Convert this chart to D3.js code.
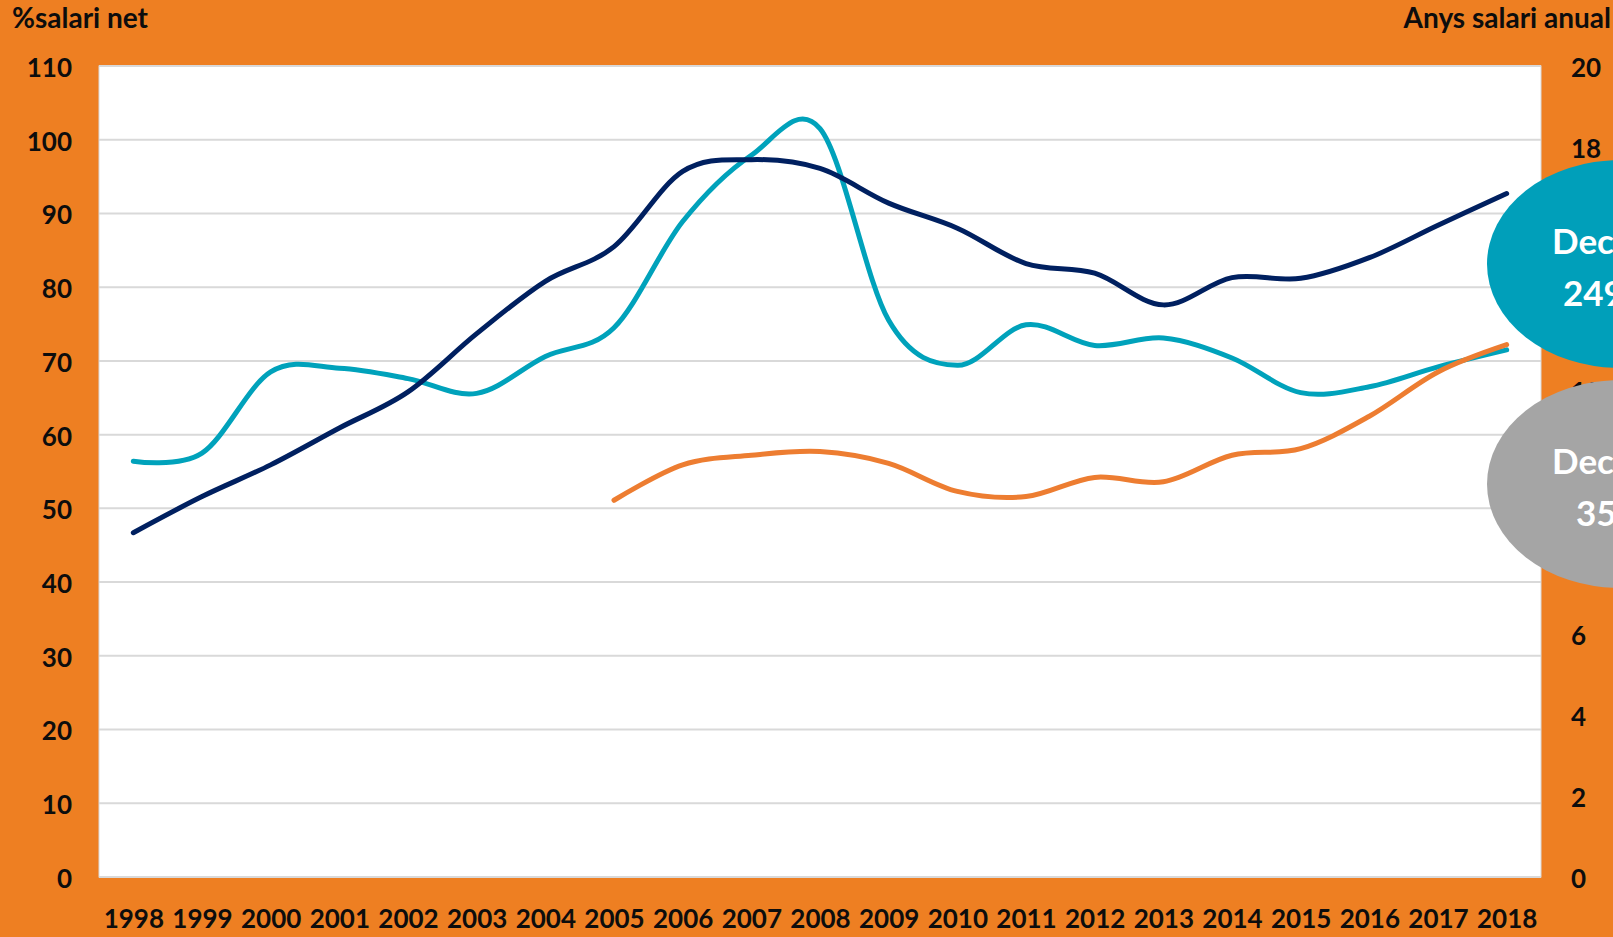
<!DOCTYPE html>
<html>
<head>
<meta charset="utf-8">
<script src="https://cdn.jsdelivr.net/npm/d3@7"></script>
<style>
  body { margin: 0; overflow: hidden; background: #ee7f22; }
  text { font-family: Lato, 'Open Sans', sans-serif; font-weight: bold; }
</style>
</head>
<body>
<div id="chart"></div>
<script>
const years = ['1998', '1999', '2000', '2001', '2002', '2003', '2004', '2005', '2006', '2007', '2008',
  '2009', '2010', '2011', '2012', '2013', '2014', '2015', '2016', '2017', '2018'];

// % of net salary
const darkValues = [46.7, 51.6, 55.9, 60.9, 65.8, 73.7, 80.8, 85.5, 95.7, 97.3, 96.1,
  91.4, 88.0, 83.2, 81.9, 77.6, 81.3, 81.2, 84.0, 88.4, 92.7];
const tealValues = [56.4, 57.5, 68.5, 69.0, 67.6, 65.6, 70.6, 74.5, 88.9, 97.9, 101.5,
  75.5, 69.4, 74.9, 72.1, 73.1, 70.4, 65.7, 66.5, 69.2, 71.5];
const orangeValues = [null, null, null, null, null, null, null, 51.1, 55.9, 57.2, 57.7,
  56.1, 52.3, 51.6, 54.2, 53.6, 57.2, 58.1, 62.5, 68.5, 72.2];

const leftTicks = d3.range(0, 111, 10);
// right axis labels left visible (8, 10, 14 and 16 sit under the bubbles)
const rightTicks = [0, 2, 4, 6, 12, 18, 20];

const bubbleColors = ['#009fba', '#a5a5a5'];
const bubbleLines = [['Dec', '249'], ['Dec', '35']];

const width = 1613;
const height = 937;
const plot = { left: 99, right: 1541, top: 66, bottom: 877 };

const svg = d3.select('#chart')
    .append('svg')
    .attr('width', width)
    .attr('height', height)
    .style('display', 'block');

svg.append('rect')
    .attr('width', width)
    .attr('height', height)
    .attr('fill', '#ee7f22');

svg.append('rect')
    .attr('x', plot.left)
    .attr('y', plot.top)
    .attr('width', plot.right - plot.left)
    .attr('height', plot.bottom - plot.top)
    .attr('fill', '#fff')
    .attr('stroke', '#d9d9d9')
    .attr('stroke-width', 1);

const x = d3.scalePoint(years, [plot.left, plot.right]).padding(0.5);
const yLeft = d3.scaleLinear([0, 110], [plot.bottom, plot.top]);
const yRight = d3.scaleLinear([0, 20], [plot.bottom, plot.top]);

// gridlines
svg.append('g')
    .selectAll('line')
    .data(leftTicks)
    .join('line')
    .attr('x1', plot.left)
    .attr('x2', plot.right)
    .attr('y1', d => yLeft(d))
    .attr('y2', d => yLeft(d))
    .attr('stroke', '#d9d9d9')
    .attr('stroke-width', 2);

// lines
const series = [
  { values: tealValues, color: '#00a2bb' },
  { values: darkValues, color: '#002060' },
  { values: orangeValues, color: '#ed7d31' }
];
const line = d3.line()
    .defined(d => d != null)
    .x((d, i) => x(years[i]))
    .y(d => yLeft(d))
    .curve(d3.curveCardinal.tension(0));

svg.append('g')
    .selectAll('path')
    .data(series)
    .join('path')
    .attr('d', s => line(s.values))
    .attr('fill', 'none')
    .attr('stroke', s => s.color)
    .attr('stroke-width', 5)
    .attr('stroke-linecap', 'round')
    .attr('stroke-linejoin', 'round');

// axes
const leftAxis = svg.append('g')
    .attr('transform', `translate(${plot.left}, 0)`)
    .call(d3.axisLeft(yLeft).tickValues(leftTicks).tickSize(0).tickPadding(27));
const rightAxis = svg.append('g')
    .attr('transform', `translate(${plot.right}, 0)`)
    .call(d3.axisRight(yRight).tickValues(rightTicks).tickSize(0).tickPadding(30));
const bottomAxis = svg.append('g')
    .attr('transform', `translate(0, ${plot.bottom})`)
    .call(d3.axisBottom(x).tickSize(0).tickPadding(30));

[leftAxis, rightAxis, bottomAxis].forEach(ax => {
  ax.select('.domain').remove();
  ax.selectAll('text')
      .attr('font-family', "Lato, 'Open Sans', sans-serif")
      .attr('font-size', 26)
      .attr('font-weight', 'bold')
      .attr('fill', '#0d0d0d');
});
leftAxis.selectAll('text').attr('dy', '0.4em');
rightAxis.selectAll('text').attr('dy', '0.4em');
bottomAxis.selectAll('text').attr('dy', '0.4em').attr('y', 41);

// axis titles
svg.append('text')
    .text('%salari net')
    .attr('x', 12)
    .attr('y', 28)
    .attr('font-size', 28)
    .attr('fill', '#0d0d0d');

svg.append('text')
    .text('Anys salari anual')
    .attr('x', 1611)
    .attr('y', 28)
    .attr('text-anchor', 'end')
    .attr('font-size', 28)
    .attr('fill', '#0d0d0d');

// bubbles on the right edge
const bubbleY = [264, 484];
const bubbles = svg.append('g')
    .selectAll('g')
    .data(bubbleLines)
    .join('g')
    .attr('transform', (d, i) => `translate(1620, ${bubbleY[i]})`);

bubbles.append('ellipse')
    .attr('rx', 133)
    .attr('ry', 104)
    .attr('fill', (d, i) => bubbleColors[i]);

bubbles.append('text')
    .text(d => d[0])
    .attr('x', -68)
    .attr('y', -10)
    .attr('font-size', 35)
    .attr('fill', '#fff');

bubbles.append('text')
    .text(d => d[1])
    .attr('x', (d, i) => i === 0 ? -57 : -44)
    .attr('y', 42)
    .attr('font-size', 35)
    .attr('fill', '#fff');
</script>
</body>
</html>
